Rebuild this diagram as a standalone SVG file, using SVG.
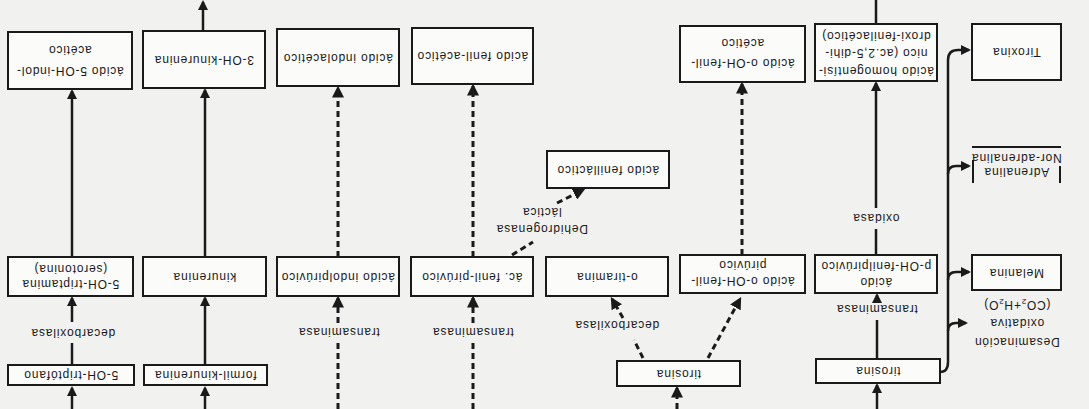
<svg xmlns="http://www.w3.org/2000/svg" width="1089" height="409" viewBox="0 0 1089 409">
<style>
.bg{fill:#f1f1ef}
.box{fill:#fbfbfa;stroke:#1a1a1a;stroke-width:2}
.t{font-family:"Liberation Sans",Arial,sans-serif;font-size:12px;letter-spacing:0.8px;fill:#1a1a1a;text-anchor:middle;dominant-baseline:central}
.s{fill:none;stroke:#1a1a1a;stroke-width:2.5}
.d{fill:none;stroke:#1a1a1a;stroke-width:3;stroke-dasharray:6 4}
.a{marker-end:url(#ah)}
</style>
<defs>
<marker id="ah" viewBox="0 0 10 10" refX="8" refY="5" markerWidth="4" markerHeight="4" orient="auto" markerUnits="strokeWidth">
<path d="M0,0 L10,5 L0,10 Z" fill="#1a1a1a"/>
</marker>
</defs>
<rect class="bg" x="0" y="0" width="1089" height="409"/>

<g id="connectors">
<path class="s a" d="M72,409 V388"/>
<path class="s" d="M72,365 V343"/>
<path class="s a" d="M72,322 V298"/>
<path class="s a" d="M72,257 V91"/>
<path class="s a" d="M205,409 V388"/>
<path class="s a" d="M205,365 V298"/>
<path class="s a" d="M205,257 V90"/>
<path class="s a" d="M203,31 V2"/>
<path class="d" d="M338,409 V341"/>
<path class="d a" d="M338,323 V298"/>
<path class="d a" d="M338,257 V88"/>
<path class="d" d="M473,409 V341"/>
<path class="d a" d="M473,323 V298"/>
<path class="d a" d="M473,257 V86"/>
<path class="d" d="M512,255 L533,242"/>
<path class="d a" d="M557,203 L583,190"/>
<path class="d a" d="M677,409 V388"/>
<path class="d" d="M643,358 L634,340"/>
<path class="d a" d="M623,318 L612,299"/>
<path class="d a" d="M708,358 L740,299"/>
<path class="d a" d="M742,255 V84"/>
<path class="s a" d="M877,409 V385"/>
<path class="s" d="M877,359 V320"/>
<path class="s a" d="M877,300 V295"/>
<path class="s" d="M876,255 V229"/>
<path class="s a" d="M876,208 V83"/>
<path class="s" d="M876,24 V0"/>
<path class="s a" d="M940,372 Q948,372 948,362 V60 Q948,50 958,50 H969"/>
<path class="s a" d="M948,174 Q948,166 956,166 H969"/>
<path class="s a" d="M948,280 Q948,272 956,272 H969"/>
<path class="s a" d="M948,331 Q948,323 956,323 H966"/>
<g transform="translate(73,333) rotate(180)"><text class="t">decarboxilasa</text></g>
<g transform="translate(339,332) rotate(180)"><text class="t">transaminasa</text></g>
<g transform="translate(473,332) rotate(180)"><text class="t">transaminasa</text></g>
<g transform="translate(617,325) rotate(180)"><text class="t">decarboxilasa</text></g>
<g transform="translate(877,309) rotate(180)"><text class="t">transaminasa</text></g>
<g transform="translate(876,218) rotate(180)"><text class="t">oxidasa</text></g>
<g transform="translate(542,221) rotate(180)"><text class="t" y="-8">Dehidrogenasa</text><text class="t" y="9">láctica</text></g>
<g transform="translate(1017,323) rotate(180)"><text class="t" y="-19">Desaminación</text><text class="t" y="0">oxidativa</text><text class="t" y="18">(CO<tspan font-size="8" dy="3">2</tspan><tspan dy="-3">+H</tspan><tspan font-size="8" dy="3">2</tspan><tspan dy="-3">O)</tspan></text></g>
</g>

<g id="n-5oh-indolacetico"><rect class="box" x="8" y="32" width="124" height="57"/>
<g transform="translate(70,60.5) rotate(180)"><text class="t" y="-10">ácido 5-OH-indol-</text><text class="t" y="11">acético</text></g></g>
<g id="n-3oh-kinurenina"><rect class="box" x="143" y="31" width="122" height="57"/>
<g transform="translate(204,59.5) rotate(180)"><text class="t">3-OH-kinurenina</text></g></g>
<g id="n-indolacetico"><rect class="box" x="277" y="29" width="122" height="57"/>
<g transform="translate(338,57.5) rotate(180)"><text class="t">ácido indolacético</text></g></g>
<g id="n-fenilacetico"><rect class="box" x="412" y="28" width="121" height="56"/>
<g transform="translate(472.5,56) rotate(180)"><text class="t">ácido fenil-acético</text></g></g>
<g id="n-ohfenilacetico"><rect class="box" x="680" y="26" width="125" height="56"/>
<g transform="translate(742.5,54) rotate(180)"><text class="t" y="-9">ácido o-OH-fenil-</text><text class="t" y="11">acético</text></g></g>
<g id="n-homogentisico"><rect class="box" x="815" y="24" width="122" height="57"/>
<g transform="translate(876,52.5) rotate(180)"><text class="t" y="-18">ácido homogentísi-</text><text class="t" y="0">nico (ac.2,5-dihi-</text><text class="t" y="17">droxi-fenilacético)</text></g></g>
<g id="n-tiroxina"><rect class="box" x="972" y="24" width="89" height="56"/>
<g transform="translate(1016.5,52) rotate(180)"><text class="t">Tiroxina</text></g></g>

<g id="n-fenillactico"><rect class="box" x="547" y="151" width="122" height="37"/>
<g transform="translate(608,169.5) rotate(180)"><text class="t">ácido fenilláctico</text></g></g>
<g id="n-adrenalina">
<path d="M972,147 H1061 M973,160 V183 M1060,166 V183" fill="none" stroke="#1a1a1a" stroke-width="2"/>
<g transform="translate(1016.5,165) rotate(180)"><text class="t" y="-7">Adrenalina</text><text class="t" y="7">Nor-adrenalina</text></g></g>

<g id="n-serotonina"><rect class="box" x="8" y="257" width="125" height="39"/>
<g transform="translate(70.5,276.5) rotate(180)"><text class="t" y="-7">5-OH-triptamina</text><text class="t" y="8">(serotonina)</text></g></g>
<g id="n-kinurenina"><rect class="box" x="143" y="257" width="123" height="39"/>
<g transform="translate(204.5,276.5) rotate(180)"><text class="t">kinurenina</text></g></g>
<g id="n-indolpiruvico"><rect class="box" x="277" y="257" width="122" height="39"/>
<g transform="translate(338,276.5) rotate(180)"><text class="t">ácido indolpirúvico</text></g></g>
<g id="n-fenilpiruvico"><rect class="box" x="411" y="257" width="122" height="39"/>
<g transform="translate(472,276.5) rotate(180)"><text class="t">ác. fenil-pirúvico</text></g></g>
<g id="n-otiramina"><rect class="box" x="546" y="257" width="122" height="39"/>
<g transform="translate(607,276.5) rotate(180)"><text class="t">o-tiramina</text></g></g>
<g id="n-ohfenilpiruvico"><rect class="box" x="680" y="255" width="125" height="38"/>
<g transform="translate(742.5,274) rotate(180)"><text class="t" y="-7">ácido o-OH-fenil-</text><text class="t" y="9">pirúvico</text></g></g>
<g id="n-pohfenilpiruvico"><rect class="box" x="815" y="255" width="122" height="38"/>
<g transform="translate(876,274) rotate(180)"><text class="t" y="-8">ácido</text><text class="t" y="8">p-OH-fenilpirúvico</text></g></g>
<g id="n-melanina"><rect class="box" x="972" y="255" width="89" height="35"/>
<g transform="translate(1016.5,272.5) rotate(180)"><text class="t">Melanina</text></g></g>

<g id="n-5oh-triptofano"><rect class="box" x="8" y="365" width="126" height="20"/>
<g transform="translate(71,375) rotate(180)"><text class="t">5-OH-triptófano</text></g></g>
<g id="n-formilkinurenina"><rect class="box" x="144" y="365" width="123" height="20"/>
<g transform="translate(205.5,375) rotate(180)"><text class="t">formil-kinurenina</text></g></g>
<g id="n-tirosina-1"><rect class="box" x="617" y="361" width="123" height="25"/>
<g transform="translate(678.5,373.5) rotate(180)"><text class="t">tirosina</text></g></g>
<g id="n-tirosina-2"><rect class="box" x="816" y="359" width="124" height="24"/>
<g transform="translate(878,371) rotate(180)"><text class="t">tirosina</text></g></g>
</svg>
